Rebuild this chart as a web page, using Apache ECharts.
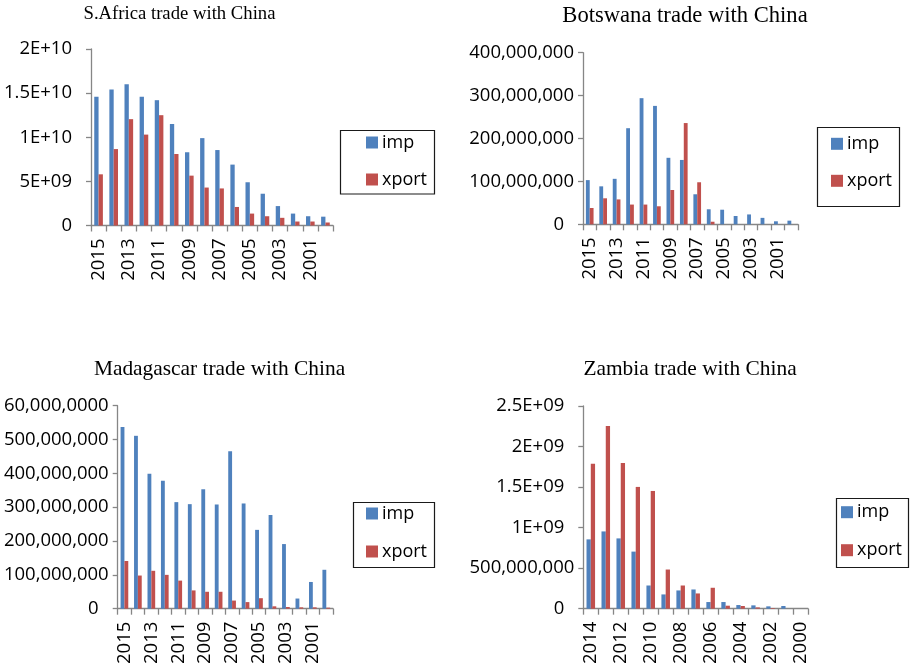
<!DOCTYPE html>
<html>
<head>
<meta charset="utf-8">
<script src="https://cdn.jsdelivr.net/npm/echarts@6/dist/echarts.min.js"></script>
<style>html,body{margin:0;padding:0;background:#fff}#c{width:910px;height:667px}</style>
</head>
<body>
<div id="c"></div>
<script>
// ---- data ----
const yearsA = ['2015','2014','2013','2012','2011','2010','2009','2008','2007','2006','2005','2004','2003','2002','2001','2000'];
const yearsZ = ['2014','2013','2012','2011','2010','2009','2008','2007','2006','2005','2004','2003','2002','2001','2000'];

const saImp   = [14.6e9,15.4e9,16.0e9,14.6e9,14.2e9,11.5e9,8.3e9,9.9e9,8.55e9,6.9e9,4.9e9,3.6e9,2.2e9,1.35e9,1.05e9,1.0e9];
const saXport = [5.8e9,8.66e9,12.05e9,10.3e9,12.5e9,8.1e9,5.65e9,4.3e9,4.2e9,2.1e9,1.35e9,1.05e9,0.87e9,0.45e9,0.45e9,0.34e9];

const bwImp   = [103e6,88.5e6,106e6,224e6,294e6,276e6,155e6,150e6,70e6,35e6,34e6,19.4e6,23e6,15e6,7e6,8.5e6];
const bwXport = [38e6,60.6e6,58e6,46e6,46e6,42e6,80e6,236e6,98e6,6e6,0,0,0,0,0,0];

const mgImp   = [537e6,511e6,399e6,378e6,315e6,309e6,353e6,308e6,465e6,311e6,233e6,277e6,191e6,30e6,79e6,115e6];
const mgXport = [141e6,98e6,112e6,100e6,83e6,54e6,50e6,50e6,24e6,19.5e6,31e6,7e6,5e6,4e6,4e6,3e6];

const zmImp   = [855e6,953e6,867e6,704e6,286e6,176e6,225e6,237e6,82e6,82e6,45e6,41e6,29e6,33e6,0];
const zmXport = [1788e6,2254e6,1796e6,1502e6,1452e6,483e6,286e6,188e6,258e6,37e6,33e6,16e6,8e6,0,0];

const saTicks = ['0','5E+09','1E+10','1.5E+10','2E+10'];
const bwTicks = ['0','100,000,000','200,000,000','300,000,000','400,000,000'];
const mgTicks = ['0','100,000,000','200,000,000','300,000,000','400,000,000','500,000,000','60,000,0000'];
const zmTicks = ['0','500,000,000','1E+09','1.5E+09','2E+09','2.5E+09'];

const titles = ['S.Africa trade with China','Botswana trade with China','Madagascar trade with China','Zambia trade with China'];
const seriesNames = ['imp','xport'];

// ---- layout ----
const panels = [
  {cats: yearsA, imp: saImp, xp: saXport, ticks: saTicks, step: 5e9, grid:{left:91,top:49,width:242,height:176.5},
   title:{x:179.5,y:4.5,size:18.7}, box:[340.5,130.5,94,63.5], leg:{left:366,top:133.5,gap:19}},
  {cats: yearsA, imp: bwImp, xp: bwXport, ticks: bwTicks, step: 1e8, grid:{left:583,top:52.7,width:215,height:171.6},
   title:{x:685,y:5,size:22.6}, box:[817.5,127.5,82,79], leg:{left:831,top:134.8,gap:19}},
  {cats: yearsA, imp: mgImp, xp: mgXport, ticks: mgTicks, step: 1e8, grid:{left:117.7,top:405.7,width:215.3,height:204.6},
   title:{x:219.5,y:358.5,size:21.4}, box:[353.5,502.5,81,65], leg:{left:366,top:504.5,gap:20}},
  {cats: yearsZ, imp: zmImp, xp: zmXport, ticks: zmTicks, step: 5e8, grid:{left:583.3,top:406,width:224.7,height:203.7},
   title:{x:690,y:358.5,size:21.4}, box:[836.5,498.5,72,69], leg:{left:841,top:503.2,gap:20}}
];

const FONT = 'Open Sans';
const FS = 18.5;
const axisColor = '#868686';
const colors = ['#4F81BD','#C0504D'];

const option = {
  animation: false,
  color: colors,
  title: [], grid: [], xAxis: [], yAxis: [], series: [], legend: [], graphic: []
};

panels.forEach((p, i) => {
  option.title.push({
    text: titles[i], left: p.title.x, top: p.title.y, textAlign: 'center', padding: 0,
    textStyle: {fontFamily: 'Liberation Serif', fontSize: p.title.size, fontWeight: 'normal', color: '#000'}
  });
  option.grid.push(Object.assign({containLabel: false}, p.grid));
  option.xAxis.push({
    type: 'category', gridIndex: i, data: p.cats, boundaryGap: true,
    axisLine: {show: true, lineStyle: {color: axisColor, width: 1.3}},
    axisTick: {show: true, interval: 0, length: 6, lineStyle: {color: axisColor, width: 1.3}},
    axisLabel: {interval: 1, rotate: 90, margin: 13, fontFamily: FONT, fontSize: FS, color: '#000'},
    splitLine: {show: false}
  });
  const ticks = p.ticks;
  const step = p.step;
  option.yAxis.push({
    type: 'value', gridIndex: i, min: 0, max: step * (ticks.length - 1), interval: step,
    axisLine: {show: true, lineStyle: {color: axisColor, width: 1.3}},
    axisTick: {show: true, length: 5, lineStyle: {color: axisColor, width: 1.3}},
    splitLine: {show: false},
    axisLabel: {
      margin: 9, fontFamily: FONT, fontSize: FS, color: '#000',
      formatter: function (v) {
        const t = ticks[Math.round(v / step)];
        if (t === undefined) return '';
        return t.indexOf(',') >= 0 ? t : '{p|' + t + '}';
      },
      rich: {p: {fontFamily: FONT, fontSize: FS, color: '#000', padding: [0, 10, 0, 0]}}
    }
  });
  [p.imp, p.xp].forEach((d, k) => {
    option.series.push({
      type: 'bar', name: seriesNames[k], xAxisIndex: i, yAxisIndex: i, data: d,
      barGap: '0%', barCategoryGap: '42.86%',
      itemStyle: {color: colors[k]}
    });
  });
  option.legend.push({
    orient: 'vertical', left: p.leg.left, top: p.leg.top, padding: 0,
    itemGap: p.leg.gap, itemWidth: 12, itemHeight: 12, icon: 'rect',
    data: seriesNames,
    textStyle: {fontFamily: FONT, fontSize: 18, lineHeight: 17, color: '#000', padding: [0,0,0,-1]}
  });
  option.graphic.push({
    type: 'rect', silent: true,
    shape: {x: p.box[0], y: p.box[1], width: p.box[2], height: p.box[3]},
    style: {fill: 'none', stroke: '#1a1a1a', lineWidth: 1.2}
  });
});

const chart = echarts.init(document.getElementById('c'), null, {renderer: 'canvas'});
chart.setOption(option);
</script>
</body>
</html>
